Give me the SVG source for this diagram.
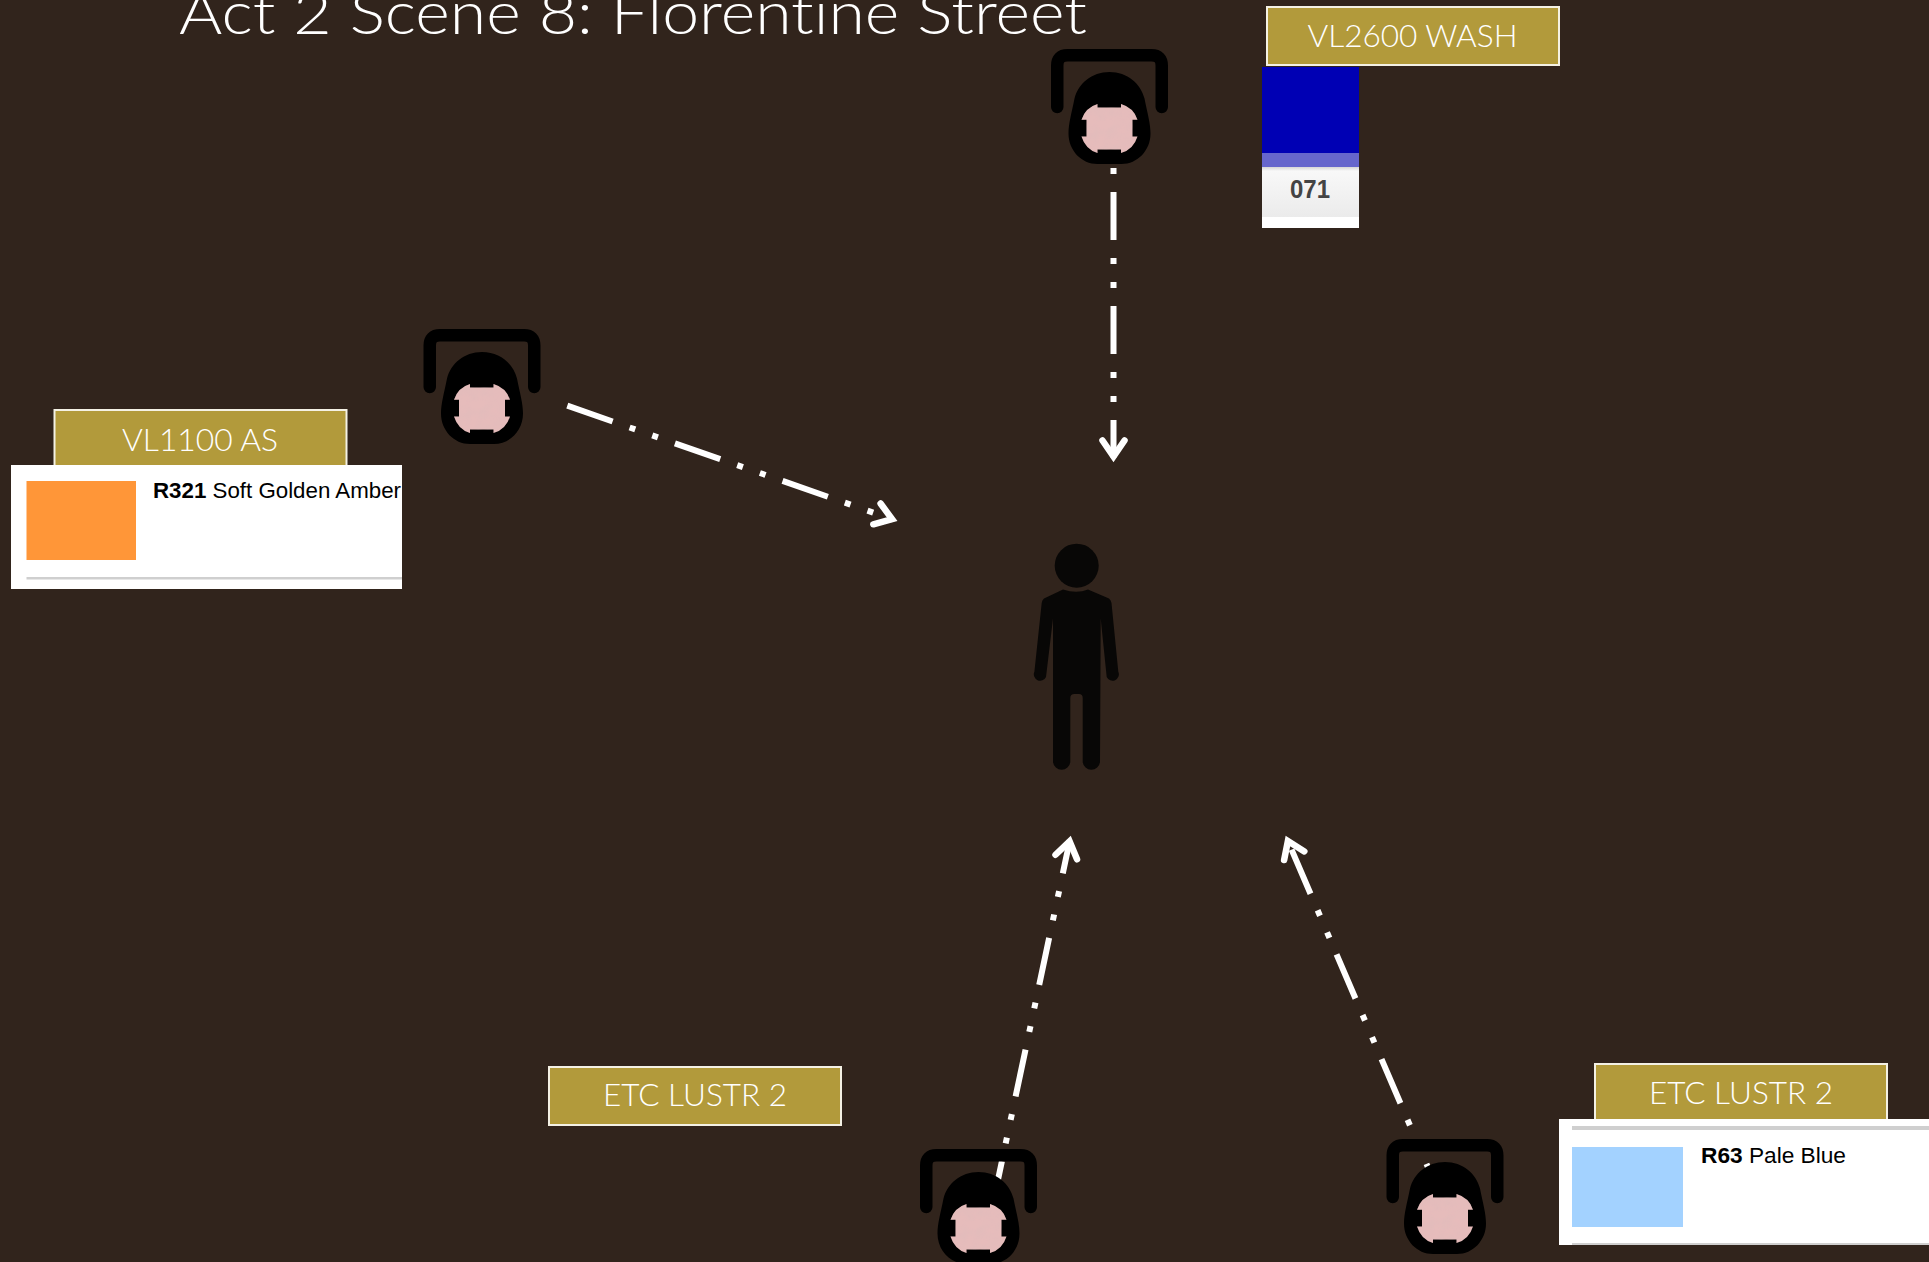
<svg xmlns="http://www.w3.org/2000/svg" width="1929" height="1262" viewBox="0 0 1929 1262">
<style>
.lbl{fill:#b29a3b;stroke:#f4f1e4;stroke-width:2}
.lt{font-family:"Lato","Liberation Sans",sans-serif;font-weight:300;fill:#fff;font-size:32px;font-variant-ligatures:none}
.title{font-family:"Lato","Liberation Sans",sans-serif;font-weight:300;fill:#fff;font-size:60px;font-variant-ligatures:none}
.card{font-family:"Liberation Sans",Arial,sans-serif;font-size:22px;fill:#000}
.card .b{font-weight:700}
.conn{fill:none;stroke:#fff;stroke-width:6;stroke-dasharray:48 18 6 18 6 18}
</style>
<defs>
<marker id="head" markerUnits="userSpaceOnUse" markerWidth="40" markerHeight="40" viewBox="-25 -20 40 40" refX="0" refY="0" orient="auto" overflow="visible">
<path d="M-17,-11 L-1,0 L-17,11" fill="none" stroke="#fff" stroke-width="6.500" stroke-linecap="round"/>
</marker>
<linearGradient id="chip" x1="0" y1="0" x2="0" y2="1">
<stop offset="0" stop-color="#d6d6d6"/><stop offset="0.08" stop-color="#f8f8f8"/><stop offset="1" stop-color="#ebebeb"/>
</linearGradient>
<filter id="mottle" x="0" y="0" width="1" height="1">
<feTurbulence type="fractalNoise" baseFrequency="0.09" numOctaves="2" seed="4" result="n"/>
<feColorMatrix in="n" type="matrix" values="0 0 0 0 0.72  0 0 0 0 0.5  0 0 0 0 0.5  0.9 0 0 0 -0.3" result="c"/>
<feComposite in="c" in2="SourceAlpha" operator="in" result="t"/>
<feMerge><feMergeNode in="SourceGraphic"/><feMergeNode in="t"/></feMerge>
</filter>
<g id="fixture">
<path d="M-52.250,-21.500 V-63 Q-52.250,-73.250 -42,-73.250 H42 Q52.250,-73.250 52.250,-63 V-21.500" fill="none" stroke="#000" stroke-width="12.500" stroke-linecap="round"/>
<path d="M0,-56.500 C18,-56.500 31,-45 35,-30 C38,-15 41,-5 41,5 C41,22 28,35.500 12,35.500 L-12,35.500 C-28,35.500 -41,22 -41,5 C-41,-5 -38,-15 -35,-30 C-31,-45 -18,-56.500 0,-56.500Z" fill="#000"/>
<path d="M-12,-24.500 L-12,-21 L11.500,-21 L11.500,-24.500 Q24,-21 28,-8.700 L23,-8.700 L23,8 L28,8 Q24,21 11.500,24.500 L11.500,21 L-12,21 L-12,24.500 Q-24,21 -28,8 L-23,8 L-23,-8.700 L-28,-8.700 Q-24,-21 -12,-24.500Z" fill="#e6bcbb" filter="url(#mottle)"/>
</g>
</defs>
<rect width="1929" height="1262" fill="#31241c"/>
<text class="title" x="179" y="34" textLength="908" lengthAdjust="spacingAndGlyphs">Act 2 Scene 8: Florentine Street</text>
<g id="connectors">
<path class="conn" marker-end="url(#head)" d="M1113.5,78 V457.500"/>
<path class="conn" marker-end="url(#head)" d="M567.3,405.700 L893,519.500"/>
<path class="conn" marker-end="url(#head)" d="M992,1208 L1069.800,840.400"/>
<path class="conn" marker-end="url(#head)" d="M1445.400,1208 L1287.500,840.100"/>
</g>
<g id="fixture-top"><use href="#fixture" x="1109.5" y="128.5"/></g>
<g id="fixture-left"><use href="#fixture" x="482" y="408.5"/></g>
<g id="fixture-bottom"><use href="#fixture" x="978.5" y="1228.5"/></g>
<g id="fixture-right"><use href="#fixture" x="1445" y="1218.5"/></g>
<g id="person" fill="#080706">
<circle cx="1076.7" cy="565.7" r="22"/>
<path d="M1063,589.500 Q1076.700,594 1088,589.500 L1109,598.500 Q1111,600 1111.500,603 L1118.300,671.700 A5.900,5.900 0 0 1 1106.700,677 L1100.700,618.500 L1100,762 A8.700,8.700 0 0 1 1082.700,762 L1082.700,698 Q1082.700,694 1079,694 L1074.500,694 Q1070.300,694 1070.300,698 L1070.300,762 A8.700,8.700 0 0 1 1053,762 L1053,618.500 L1046,677 A5.900,5.900 0 0 1 1034.400,671.700 L1041.700,603 Q1042,600 1044,598.500Z"/>
</g>
<g id="label-vl2600"><rect class="lbl" x="1267" y="7" width="292" height="58"/><text class="lt" x="1412.5" y="47" text-anchor="middle" textLength="210" lengthAdjust="spacingAndGlyphs">VL2600 WASH</text></g>
<g id="swatch-071">
<rect x="1262" y="67" width="97" height="161" fill="#fff"/>
<rect x="1262" y="67" width="97" height="86" fill="#0000b4"/>
<rect x="1262" y="153" width="97" height="14" fill="#6666cc"/>
<rect x="1262" y="167" width="97" height="50" fill="url(#chip)"/>
<text x="1310" y="198" text-anchor="middle" font-family="Liberation Sans,Arial,sans-serif" font-weight="700" font-size="25" fill="#444" textLength="40" lengthAdjust="spacingAndGlyphs">071</text>
</g>
<g id="label-vl1100"><rect class="lbl" x="54.500" y="410" width="292" height="60"/><text class="lt" x="200" y="451" text-anchor="middle" textLength="156" lengthAdjust="spacingAndGlyphs">VL1100 AS</text></g>
<g id="card-r321">
<rect x="11" y="465" width="391" height="124" fill="#fff"/>
<rect x="26.500" y="481" width="109.500" height="79" fill="#ff9638"/>
<rect x="26.500" y="577" width="375.500" height="2.500" fill="#cfcfcf"/>
<text class="card" x="153" y="498" textLength="248" lengthAdjust="spacingAndGlyphs"><tspan class="b">R321</tspan> Soft Golden Amber</text>
</g>
<g id="label-etc-left"><rect class="lbl" x="549" y="1067" width="292" height="58"/><text class="lt" x="695" y="1106" text-anchor="middle" textLength="184" lengthAdjust="spacingAndGlyphs">ETC LUSTR 2</text></g>
<g id="label-etc-right"><rect class="lbl" x="1595" y="1064" width="292" height="60"/><text class="lt" x="1741" y="1104" text-anchor="middle" textLength="184" lengthAdjust="spacingAndGlyphs">ETC LUSTR 2</text></g>
<g id="card-r63">
<rect x="1559" y="1119" width="370" height="126" fill="#fff"/>
<rect x="1572" y="1126" width="357" height="4" fill="#cfcfcf"/>
<rect x="1572" y="1147" width="111" height="80" fill="#a3d2ff"/>
<rect x="1572" y="1243" width="357" height="2" fill="#cfcfcf"/>
<text class="card" x="1701" y="1163" textLength="145" lengthAdjust="spacingAndGlyphs"><tspan class="b">R63</tspan> Pale Blue</text>
</g>
</svg>
